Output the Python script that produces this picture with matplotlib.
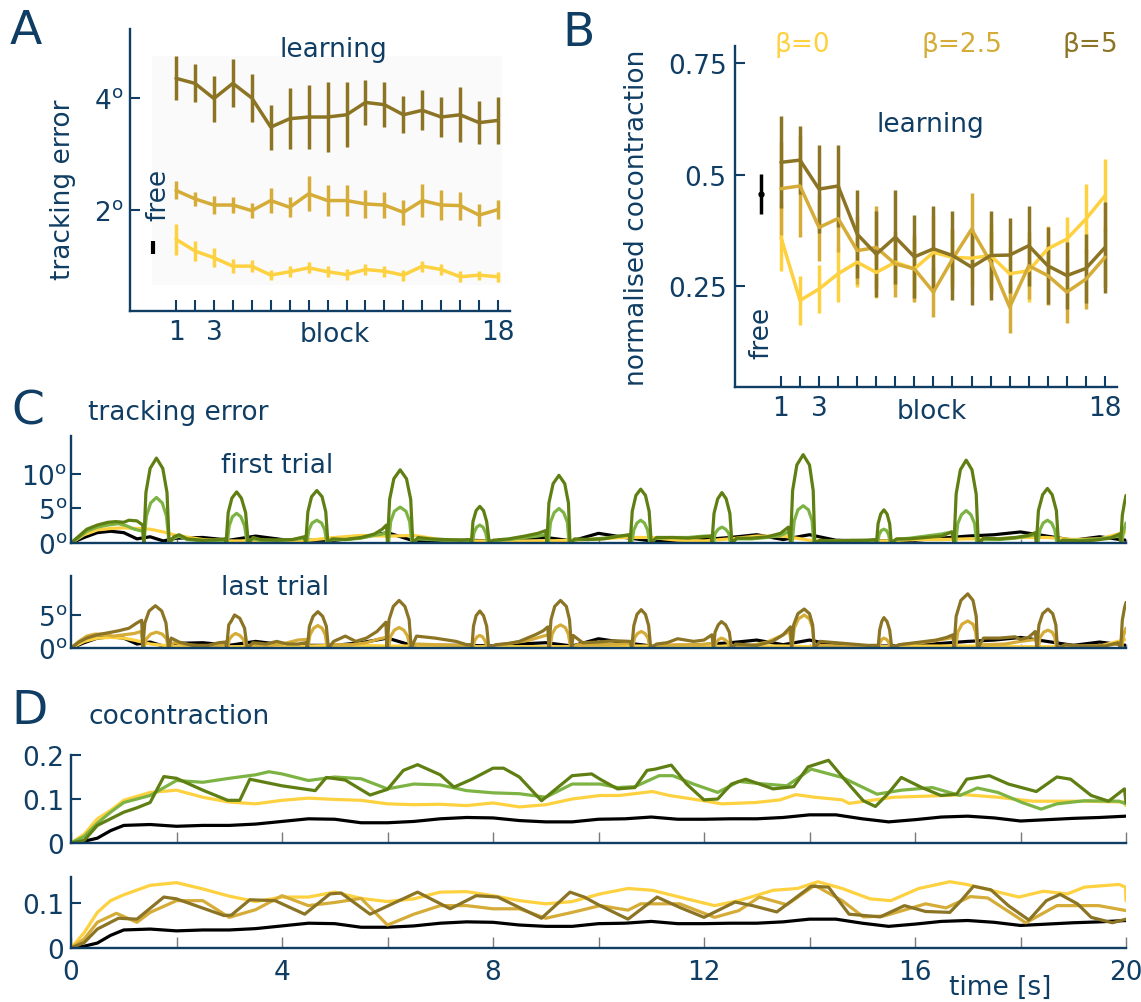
import numpy as np
import matplotlib
matplotlib.use('Agg')
import matplotlib.pyplot as plt
from matplotlib.patches import Rectangle

plt.rcParams['font.family'] = ['DejaVu Sans']
plt.rcParams['mathtext.fontset'] = 'dejavusans'
plt.rcParams['lines.solid_joinstyle'] = 'round'
plt.rcParams['lines.solid_capstyle'] = 'round'

W, H = 1141, 1003
NAVY = '#0f3d63'
C_B0 = '#fdd13f'
C_B25 = '#d4ac37'
C_B5 = '#8c7425'
C_DG = '#5f7f12'
C_LG = '#7db343'
GREY = '#7a7a7a'
FS = 19

# ---------------- panel A : tracking error per block ----------------
blocks = list(range(1, 19))
a_b0 = [1.48, 1.27, 1.15, 1.00, 1.00, 0.84, 0.90, 0.97, 0.90, 0.85, 0.94, 0.91, 0.84, 1.00, 0.94, 0.81, 0.84, 0.81]
a_b0_err = [0.28, 0.17, 0.17, 0.13, 0.11, 0.09, 0.10, 0.10, 0.10, 0.10, 0.10, 0.10, 0.10, 0.10, 0.10, 0.10, 0.08, 0.09]
a_b25 = [2.35, 2.20, 2.09, 2.09, 1.99, 2.17, 2.05, 2.29, 2.17, 2.17, 2.11, 2.09, 1.96, 2.17, 2.09, 2.08, 1.91, 2.01]
a_b25_err = [0.16, 0.13, 0.16, 0.15, 0.13, 0.22, 0.18, 0.31, 0.27, 0.27, 0.25, 0.23, 0.22, 0.30, 0.26, 0.25, 0.20, 0.17]
a_b5 = [4.35, 4.26, 3.99, 4.26, 4.00, 3.48, 3.63, 3.66, 3.66, 3.70, 3.92, 3.88, 3.70, 3.78, 3.66, 3.70, 3.56, 3.60]
a_b5_err = [0.39, 0.34, 0.41, 0.43, 0.43, 0.40, 0.54, 0.57, 0.62, 0.58, 0.40, 0.40, 0.33, 0.36, 0.35, 0.49, 0.39, 0.42]
a_free = [1.33]
a_free_err = [0.12]

# ---------------- panel B : normalised cocontraction per block ----------------
b_b0 = [0.360, 0.218, 0.244, 0.278, 0.304, 0.281, 0.304, 0.289, 0.326, 0.315, 0.313, 0.319, 0.278, 0.285, 0.334, 0.356, 0.401, 0.453]
b_b0_err = [0.075, 0.054, 0.054, 0.063, 0.056, 0.058, 0.060, 0.069, 0.084, 0.063, 0.063, 0.075, 0.061, 0.070, 0.052, 0.049, 0.078, 0.082]
b_b25 = [0.469, 0.475, 0.382, 0.402, 0.330, 0.337, 0.300, 0.289, 0.237, 0.311, 0.378, 0.304, 0.203, 0.296, 0.274, 0.237, 0.266, 0.315]
b_b25_err = [0.104, 0.114, 0.075, 0.075, 0.075, 0.093, 0.075, 0.075, 0.056, 0.067, 0.082, 0.070, 0.058, 0.075, 0.067, 0.069, 0.067, 0.067]
b_b5 = [0.528, 0.533, 0.468, 0.475, 0.367, 0.322, 0.360, 0.316, 0.334, 0.319, 0.293, 0.319, 0.320, 0.341, 0.296, 0.274, 0.290, 0.337]
b_b5_err = [0.103, 0.076, 0.099, 0.093, 0.099, 0.097, 0.106, 0.093, 0.097, 0.100, 0.086, 0.099, 0.084, 0.090, 0.086, 0.076, 0.078, 0.103]
b_free = [0.457]
b_free_err = [0.044]

# ---------------- panel C : tracking error traces (deg) ----------------
c_ts = [0, 0.25, 0.5, 0.75, 1.0, 1.25, 1.5, 1.75] + list(np.arange(2.0, 20.01, 0.5))
c_black = [0, 0.8, 1.5, 1.7, 1.5, 0.6, 0.9, 0.3,
           0.7, 0.8, 0.4, 1.0, 0.5, 0.4, 0.4, 0.8, 1.5, 0.3, 0.4, 0.4, 0.3, 0.6, 0.8, 0.3,
           1.4, 0.8, 0.3, 0.3, 0.5, 0.8, 1.2, 0.5, 1.2, 0.4, 0.3, 0.3, 0.4, 0.7, 1.0, 1.2,
           1.6, 1.0, 0.4, 0.9, 0.4]
c1_yellow = [0, 1.2, 1.9, 2.1, 2.2, 2.1, 2.0, 1.6,
             1.1, 0.5, 0.3, 0.3, 0.3, 0.4, 0.8, 1.1, 1.0, 1.1, 0.5, 0.3, 0.3, 0.3, 0.3, 0.4,
             0.6, 0.8, 0.8, 0.4, 0.3, 0.6, 1.0, 1.0, 0.4, 0.3, 0.3, 0.3, 0.5, 0.5, 0.6, 0.6,
             0.8, 0.8, 0.5, 0.6, 1.6]
c2_yellow = [0, 1.0, 1.5, 1.6, 1.5, 1.1, 0.6, 0.4,
             0.2, 0.2, 0.2, 0.2, 0.3, 0.3, 0.4, 0.4, 0.3, 0.3, 0.2, 0.2, 0.2, 0.2, 0.2, 0.2,
             0.3, 0.3, 0.3, 0.2, 0.2, 0.3, 0.3, 0.3, 0.2, 0.2, 0.2, 0.2, 0.3, 0.3, 0.3, 0.3,
             0.2, 0.2, 0.2, 0.3, 1.3]

# first trial, dark green (t, deg)
c1_dark = [(0, 0), (0.15, 1.0), (0.3, 2.0), (0.5, 2.6), (0.7, 3.0), (0.85, 3.1), (1.0, 3.0), (1.1, 3.3), (1.25, 3.2), (1.36, 2.6),
           (1.38, 0), (1.42, 7.3), (1.5, 10.8), (1.62, 12.3), (1.74, 10.8), (1.82, 7.3), (1.86, 0),
           (1.95, 0.9), (2.05, 1.2), (2.2, 0.6), (2.5, 0.4), (2.8, 0.5), (2.92, 0.6),
           (2.94, 0), (2.98, 4.4), (3.05, 6.5), (3.14, 7.4), (3.23, 6.5), (3.31, 4.4), (3.36, 0),
           (3.45, 0.8), (3.6, 0.5), (3.9, 0.4), (4.2, 0.5), (4.42, 0.9),
           (4.45, 0), (4.49, 4.5), (4.56, 6.7), (4.66, 7.6), (4.76, 6.7), (4.83, 4.5), (4.87, 0),
           (4.95, 0.6), (5.2, 0.5), (5.5, 0.8), (5.75, 1.3), (5.9, 2.0), (5.98, 2.6),
           (6.0, 0), (6.04, 6.3), (6.12, 9.3), (6.24, 10.6), (6.36, 9.3), (6.44, 6.3), (6.48, 0),
           (6.58, 0.8), (6.8, 0.6), (7.1, 0.5), (7.4, 0.4), (7.57, 0.5),
           (7.59, 0), (7.62, 3.1), (7.68, 4.7), (7.75, 5.3), (7.82, 4.7), (7.88, 3.1), (7.93, 0),
           (8.0, 0.4), (8.3, 0.6), (8.6, 1.0), (8.85, 1.4), (9.0, 1.8),
           (9.02, 0), (9.06, 5.8), (9.14, 8.6), (9.25, 9.8), (9.36, 8.6), (9.43, 5.8), (9.46, 0),
           (9.55, 0.6), (9.8, 0.5), (10.1, 0.6), (10.4, 1.0), (10.58, 1.2),
           (10.6, 0), (10.64, 4.6), (10.71, 6.9), (10.8, 7.8), (10.89, 6.9), (10.96, 4.6), (11.0, 0),
           (11.1, 0.8), (11.4, 0.8), (11.7, 0.7), (12.0, 0.9), (12.13, 1.0),
           (12.15, 0), (12.19, 4.3), (12.26, 6.4), (12.34, 7.3), (12.42, 6.4), (12.49, 4.3), (12.53, 0),
           (12.62, 0.7), (12.9, 0.7), (13.2, 0.9), (13.45, 1.4), (13.6, 2.3),
           (13.64, 0), (13.68, 7.6), (13.76, 11.3), (13.88, 12.8), (14.0, 11.3), (14.07, 7.6), (14.1, 0),
           (14.2, 0.4), (14.5, 0.3), (14.8, 0.4), (15.1, 0.4), (15.25, 0.5),
           (15.27, 0), (15.3, 2.8), (15.35, 4.2), (15.41, 4.8), (15.47, 4.2), (15.52, 2.8), (15.55, 0),
           (15.65, 0.6), (15.9, 0.6), (16.2, 0.8), (16.5, 1.0), (16.7, 1.6),
           (16.74, 0), (16.78, 7.1), (16.86, 10.6), (16.97, 12.0), (17.08, 10.6), (17.16, 7.1), (17.2, 0),
           (17.3, 0.7), (17.6, 0.6), (17.9, 0.8), (18.15, 1.1), (18.28, 1.5),
           (18.3, 0), (18.34, 4.7), (18.42, 7.0), (18.51, 7.9), (18.6, 7.0), (18.68, 4.7), (18.72, 0),
           (18.8, 0.4), (19.1, 0.3), (19.4, 0.4), (19.7, 0.7), (19.88, 1.3),
           (19.9, 0), (19.93, 4.0), (19.97, 5.8), (20.0, 6.9)]

# first trial, light green
c1_light = [(0, 0), (0.15, 0.8), (0.3, 1.7), (0.5, 2.3), (0.7, 2.6), (0.9, 2.8), (1.05, 2.5), (1.2, 2.0), (1.36, 1.7),
            (1.38, 0), (1.43, 3.9), (1.51, 5.8), (1.62, 6.6), (1.73, 5.8), (1.81, 3.9), (1.86, 0),
            (1.95, 0.7), (2.05, 1.0), (2.2, 0.5), (2.5, 0.3), (2.8, 0.4), (2.92, 0.4),
            (2.96, 0), (3.0, 2.5), (3.06, 3.8), (3.14, 4.3), (3.22, 3.8), (3.29, 2.5), (3.34, 0),
            (3.45, 0.6), (3.6, 0.4), (3.9, 0.4), (4.2, 0.5), (4.42, 0.7),
            (4.47, 0), (4.51, 1.9), (4.57, 2.9), (4.66, 3.3), (4.75, 2.9), (4.81, 1.9), (4.85, 0),
            (4.95, 0.5), (5.2, 0.5), (5.5, 0.7), (5.75, 1.1), (5.9, 1.3), (5.98, 1.5),
            (6.02, 0), (6.06, 3.1), (6.13, 4.6), (6.24, 5.2), (6.35, 4.6), (6.42, 3.1), (6.46, 0),
            (6.58, 0.6), (6.8, 0.5), (7.1, 0.4), (7.4, 0.4), (7.57, 0.4),
            (7.61, 0), (7.64, 1.5), (7.69, 2.3), (7.75, 2.6), (7.81, 2.3), (7.86, 1.5), (7.9, 0),
            (8.0, 0.3), (8.3, 0.5), (8.6, 0.8), (8.85, 1.0), (9.0, 1.2),
            (9.05, 0), (9.09, 3.0), (9.16, 4.4), (9.25, 5.0), (9.34, 4.4), (9.41, 3.0), (9.44, 0),
            (9.55, 0.5), (9.8, 0.5), (10.1, 0.7), (10.4, 1.0), (10.58, 1.1),
            (10.63, 0), (10.67, 1.9), (10.73, 2.9), (10.8, 3.3), (10.87, 2.9), (10.93, 1.9), (10.97, 0),
            (11.1, 0.7), (11.4, 0.8), (11.7, 0.8), (12.0, 1.0), (12.13, 1.0),
            (12.18, 0), (12.21, 1.4), (12.27, 2.0), (12.34, 2.3), (12.41, 2.0), (12.47, 1.4), (12.5, 0),
            (12.62, 0.6), (12.9, 0.6), (13.2, 0.8), (13.45, 1.1), (13.6, 1.6),
            (13.67, 0), (13.71, 3.2), (13.78, 4.8), (13.88, 5.4), (13.98, 4.8), (14.05, 3.2), (14.08, 0),
            (14.2, 0.3), (14.5, 0.3), (14.8, 0.3), (15.1, 0.4), (15.25, 0.4),
            (15.29, 0), (15.32, 1.2), (15.36, 1.8), (15.41, 2.0), (15.46, 1.8), (15.5, 1.2), (15.53, 0),
            (15.65, 0.5), (15.9, 0.7), (16.2, 1.0), (16.5, 1.3), (16.7, 1.6),
            (16.77, 0), (16.81, 2.8), (16.88, 4.1), (16.97, 4.7), (17.06, 4.1), (17.13, 2.8), (17.17, 0),
            (17.3, 0.5), (17.6, 0.5), (17.9, 0.7), (18.15, 1.0), (18.28, 1.2),
            (18.33, 0), (18.37, 1.9), (18.43, 2.9), (18.51, 3.3), (18.59, 2.9), (18.65, 1.9), (18.69, 0),
            (18.8, 0.4), (19.1, 0.4), (19.4, 0.5), (19.7, 0.8), (19.88, 1.0),
            (19.92, 0), (19.95, 1.6), (19.98, 2.4), (20.0, 2.9)]

# last trial, beta=5
c2_dark = [(0, 0), (0.15, 0.9), (0.3, 1.5), (0.5, 2.0), (0.7, 2.3), (0.9, 2.6), (1.1, 3.0), (1.25, 3.8), (1.34, 4.2),
           (1.36, 0), (1.4, 3.8), (1.48, 5.6), (1.6, 6.4), (1.72, 5.6), (1.8, 3.8), (1.85, 0),
           (1.9, 1.5), (2.05, 0.9), (2.3, 0.4), (2.6, 0.4), (2.8, 0.8), (2.93, 0.9),
           (2.95, 0), (2.99, 3.5), (3.04, 4.1), (3.1, 5.0), (3.2, 4.5), (3.29, 3.0), (3.34, 0),
           (3.45, 0.8), (3.7, 0.6), (3.9, 1.0), (4.1, 0.6), (4.3, 0.6), (4.46, 0.8),
           (4.48, 0), (4.52, 3.3), (4.59, 4.8), (4.68, 5.5), (4.77, 4.8), (4.84, 3.3), (4.88, 0),
           (4.98, 1.0), (5.2, 1.8), (5.4, 1.0), (5.6, 1.5), (5.8, 2.5), (5.97, 3.9),
           (5.99, 0), (6.03, 4.3), (6.11, 6.3), (6.22, 7.2), (6.33, 6.3), (6.41, 4.3), (6.45, 0),
           (6.55, 1.8), (6.9, 1.5), (7.3, 1.0), (7.5, 0.5), (7.58, 0.5),
           (7.6, 0), (7.63, 3.3), (7.68, 4.9), (7.75, 5.6), (7.82, 4.9), (7.88, 3.3), (7.92, 0),
           (8.05, 0.5), (8.3, 0.7), (8.5, 1.0), (8.8, 2.0), (8.95, 2.6), (9.04, 3.2),
           (9.06, 0), (9.1, 4.3), (9.17, 6.3), (9.28, 7.2), (9.39, 6.3), (9.45, 4.3), (9.49, 0),
           (9.52, 1.9), (9.7, 0.8), (10.0, 0.9), (10.3, 1.1), (10.6, 1.0),
           (10.63, 0), (10.67, 3.4), (10.73, 5.1), (10.81, 5.8), (10.89, 5.1), (10.95, 3.4), (10.99, 0),
           (11.1, 0.6), (11.3, 0.8), (11.5, 1.4), (11.8, 1.0), (12.0, 1.2), (12.15, 2.0),
           (12.18, 0), (12.21, 2.4), (12.27, 3.5), (12.33, 4.0), (12.41, 3.5), (12.48, 2.4), (12.52, 0),
           (12.6, 0.6), (12.8, 0.5), (13.0, 0.4), (13.3, 1.0), (13.5, 2.0), (13.64, 3.2),
           (13.66, 0), (13.7, 3.5), (13.78, 5.2), (13.9, 5.9), (14.0, 5.2), (14.06, 3.5), (14.09, 0),
           (14.2, 1.0), (14.5, 0.8), (14.8, 0.6), (15.1, 0.4), (15.28, 0.4),
           (15.3, 0), (15.33, 2.7), (15.37, 4.0), (15.41, 4.6), (15.47, 4.0), (15.52, 2.7), (15.56, 0),
           (15.7, 0.5), (16.0, 0.8), (16.4, 1.2), (16.6, 1.6), (16.72, 2.0),
           (16.74, 0), (16.78, 4.8), (16.87, 7.2), (17.0, 8.2), (17.1, 7.2), (17.16, 4.8), (17.19, 0),
           (17.3, 1.5), (17.6, 1.5), (17.9, 1.7), (18.0, 1.3), (18.15, 1.6), (18.28, 2.5),
           (18.31, 0), (18.35, 3.5), (18.42, 5.2), (18.52, 5.9), (18.61, 5.2), (18.67, 3.5), (18.7, 0),
           (18.85, 0.5), (19.2, 0.3), (19.6, 0.3), (19.85, 0.8),
           (19.9, 0), (19.93, 4.2), (19.97, 6.0), (20.0, 6.9)]

# last trial, beta=2.5
c2_mid = [(0, 0), (0.15, 1.0), (0.3, 1.8), (0.45, 2.1), (0.6, 2.1), (0.8, 1.8), (1.0, 2.0), (1.2, 2.2), (1.33, 2.5),
          (1.38, 0), (1.43, 1.4), (1.51, 2.1), (1.62, 2.4), (1.73, 2.1), (1.81, 1.4), (1.85, 0),
          (1.95, 0.8), (2.2, 0.5), (2.5, 0.3), (2.8, 0.4), (2.93, 0.5),
          (2.97, 0), (3.0, 1.3), (3.06, 1.9), (3.12, 2.2), (3.2, 1.9), (3.27, 1.3), (3.32, 0),
          (3.45, 0.5), (3.7, 0.4), (4.0, 0.6), (4.3, 1.2), (4.46, 1.3),
          (4.49, 0), (4.53, 2.0), (4.6, 3.0), (4.68, 3.4), (4.76, 3.0), (4.82, 2.0), (4.86, 0),
          (4.98, 0.5), (5.3, 0.5), (5.6, 0.8), (5.85, 1.4), (5.98, 1.6),
          (6.02, 0), (6.06, 1.8), (6.13, 2.7), (6.22, 3.1), (6.31, 2.7), (6.38, 1.8), (6.43, 0),
          (6.55, 0.6), (6.9, 0.5), (7.3, 0.4), (7.58, 0.4),
          (7.62, 0), (7.65, 1.1), (7.7, 1.7), (7.75, 1.9), (7.8, 1.7), (7.85, 1.1), (7.89, 0),
          (8.05, 0.4), (8.4, 0.8), (8.7, 1.2), (8.95, 1.8), (9.05, 2.0),
          (9.08, 0), (9.12, 2.1), (9.19, 3.1), (9.28, 3.5), (9.37, 3.1), (9.43, 2.1), (9.47, 0),
          (9.6, 0.5), (10.0, 0.5), (10.4, 0.6), (10.6, 0.7),
          (10.65, 0), (10.68, 1.5), (10.74, 2.2), (10.81, 2.5), (10.88, 2.2), (10.94, 1.5), (10.97, 0),
          (11.1, 0.4), (11.5, 0.5), (11.9, 0.5), (12.15, 0.7),
          (12.2, 0), (12.23, 0.9), (12.28, 1.3), (12.33, 1.5), (12.39, 1.3), (12.45, 0.9), (12.49, 0),
          (12.6, 0.3), (12.9, 0.4), (13.2, 0.9), (13.45, 1.8), (13.62, 2.5),
          (13.67, 0), (13.71, 3.0), (13.79, 4.4), (13.9, 5.0), (14.0, 4.4), (14.06, 3.0), (14.09, 0),
          (14.2, 0.4), (14.6, 0.3), (15.0, 0.3), (15.28, 0.3),
          (15.31, 0), (15.34, 0.9), (15.37, 1.3), (15.41, 1.5), (15.46, 1.3), (15.5, 0.9), (15.53, 0),
          (15.7, 0.5), (16.0, 0.7), (16.3, 1.0), (16.6, 1.4), (16.73, 1.6),
          (16.77, 0), (16.81, 2.4), (16.89, 3.6), (17.0, 4.1), (17.1, 3.6), (17.15, 2.4), (17.18, 0),
          (17.3, 0.5), (17.7, 0.6), (18.0, 1.0), (18.2, 1.2), (18.3, 1.3),
          (18.34, 0), (18.37, 1.6), (18.44, 2.4), (18.52, 2.7), (18.6, 2.4), (18.65, 1.6), (18.68, 0),
          (18.85, 0.3), (19.2, 0.3), (19.6, 0.4), (19.85, 0.6),
          (19.92, 0), (19.95, 1.8), (19.98, 2.6), (20.0, 3.0)]

# ---------------- panel D : cocontraction traces ----------------
d_t = [0, 0.25, 0.5, 0.75] + list(np.arange(1.0, 20.01, 0.5))
d_black = [0, 0.004, 0.011, 0.028,
           0.040, 0.042, 0.038, 0.040, 0.040, 0.043, 0.049, 0.055, 0.054, 0.046, 0.046, 0.049, 0.055,
           0.058, 0.057, 0.051, 0.048, 0.048, 0.054, 0.055, 0.059, 0.054, 0.054, 0.055, 0.055, 0.058,
           0.064, 0.064, 0.055, 0.048, 0.053, 0.059, 0.061, 0.057, 0.050, 0.053, 0.056, 0.058, 0.061]

# first trial (t, value)
d1_yellow = [(0, 0), (0.25, 0.020), (0.5, 0.055), (0.75, 0.074), (1.0, 0.097), (1.5, 0.115), (2.0, 0.120),
             (2.5, 0.104), (3.0, 0.093), (3.5, 0.089), (4.0, 0.097), (4.5, 0.102), (5.0, 0.099), (5.5, 0.097),
             (6.0, 0.089), (6.5, 0.087), (7.0, 0.088), (7.5, 0.085), (8.0, 0.091), (8.5, 0.082), (9.0, 0.087),
             (9.5, 0.100), (10.03, 0.108), (10.4, 0.108), (11.02, 0.117), (11.34, 0.108), (12.0, 0.096),
             (12.33, 0.089), (12.98, 0.092), (13.44, 0.098), (13.74, 0.110), (14.1, 0.104), (14.62, 0.098),
             (14.75, 0.090), (15.6, 0.104), (16.59, 0.108), (16.92, 0.110), (17.57, 0.104), (18.23, 0.095),
             (19.21, 0.095), (19.95, 0.093), (20.0, 0.085)]
d1_light = [(0, 0), (0.25, 0.015), (0.5, 0.045), (0.75, 0.070), (1.0, 0.092), (1.5, 0.108), (2.0, 0.142),
            (2.5, 0.138), (3.0, 0.147), (3.5, 0.155), (3.75, 0.162), (4.0, 0.157), (4.5, 0.142), (5.0, 0.150),
            (5.5, 0.146), (6.0, 0.123), (6.5, 0.134), (7.0, 0.132), (7.5, 0.119), (8.0, 0.114), (8.5, 0.112),
            (9.0, 0.104), (9.5, 0.134), (10.03, 0.134), (10.36, 0.126), (10.69, 0.128), (11.15, 0.153),
            (11.41, 0.153), (11.8, 0.134), (12.26, 0.115), (12.66, 0.140), (13.05, 0.135), (13.57, 0.130),
            (14.03, 0.168), (14.62, 0.149), (15.28, 0.111), (15.74, 0.120), (16.33, 0.126), (16.85, 0.108),
            (17.18, 0.125), (17.57, 0.115), (18.03, 0.092), (18.39, 0.077), (18.69, 0.089), (19.21, 0.096),
            (19.87, 0.095), (20.0, 0.089)]
d1_dark = [(0, 0), (0.25, 0.006), (0.5, 0.040), (1.0, 0.070), (1.25, 0.080), (1.5, 0.092), (1.76, 0.151),
           (2.0, 0.147), (2.5, 0.120), (2.97, 0.097), (3.2, 0.097), (3.39, 0.145), (4.0, 0.130), (4.63, 0.119),
           (4.84, 0.149), (5.2, 0.143), (5.67, 0.109), (6.0, 0.122), (6.3, 0.165), (6.57, 0.178), (7.0, 0.155),
           (7.26, 0.127), (7.6, 0.145), (8.0, 0.170), (8.2, 0.170), (8.5, 0.150), (8.92, 0.096), (9.5, 0.153),
           (9.87, 0.157), (10.03, 0.145), (10.36, 0.123), (10.69, 0.126), (10.92, 0.165), (11.08, 0.168),
           (11.38, 0.177), (11.67, 0.134), (12.0, 0.098), (12.26, 0.100), (12.52, 0.134), (12.79, 0.145),
           (13.31, 0.123), (13.7, 0.128), (13.97, 0.173), (14.36, 0.188), (14.69, 0.141), (15.02, 0.096),
           (15.25, 0.083), (15.48, 0.111), (15.74, 0.149), (16.13, 0.126), (16.49, 0.108), (16.79, 0.111),
           (16.98, 0.145), (17.41, 0.153), (17.77, 0.134), (18.3, 0.117), (18.69, 0.150), (18.95, 0.145),
           (19.34, 0.108), (19.67, 0.095), (19.97, 0.123), (20.0, 0.092)]

# last trial (t, value)
d2_yellow = [(0, 0), (0.25, 0.034), (0.5, 0.079), (0.75, 0.105), (1.0, 0.118), (1.5, 0.139), (2.0, 0.145),
             (2.5, 0.131), (3.0, 0.115), (3.5, 0.103), (4.0, 0.113), (4.5, 0.113), (5.0, 0.124), (5.5, 0.110),
             (6.0, 0.103), (6.5, 0.109), (7.0, 0.124), (7.5, 0.125), (8.0, 0.116), (8.5, 0.105), (9.0, 0.098),
             (9.5, 0.103), (10.03, 0.120), (10.56, 0.132), (11.02, 0.128), (11.67, 0.109), (12.2, 0.094),
             (12.66, 0.105), (13.31, 0.128), (13.77, 0.132), (14.16, 0.147), (14.62, 0.132), (15.15, 0.109),
             (15.54, 0.105), (16.07, 0.132), (16.66, 0.147), (16.98, 0.141), (17.44, 0.128), (17.97, 0.113),
             (18.43, 0.126), (18.89, 0.120), (19.21, 0.135), (19.87, 0.141), (19.99, 0.135), (20.0, 0.105)]
d2_mid = [(0, 0), (0.25, 0.020), (0.5, 0.057), (0.86, 0.077), (1.25, 0.057), (1.5, 0.079), (2.0, 0.105),
          (2.5, 0.105), (3.0, 0.068), (3.5, 0.085), (4.0, 0.116), (4.5, 0.094), (5.0, 0.101), (5.5, 0.110),
          (6.0, 0.051), (6.5, 0.075), (7.0, 0.094), (7.5, 0.094), (8.0, 0.087), (8.5, 0.087), (9.0, 0.066),
          (9.5, 0.079), (10.03, 0.094), (10.56, 0.084), (10.8, 0.098), (11.54, 0.098), (12.2, 0.068),
          (12.66, 0.083), (13.05, 0.113), (13.57, 0.096), (14.1, 0.139), (14.62, 0.105), (15.02, 0.069),
          (15.41, 0.071), (16.2, 0.098), (16.59, 0.089), (17.05, 0.114), (17.38, 0.111), (18.1, 0.056),
          (18.69, 0.094), (19.48, 0.094), (20.0, 0.083)]
d2_dark = [(0, 0), (0.25, 0.012), (0.5, 0.042), (0.9, 0.066), (1.25, 0.064), (1.76, 0.113), (2.0, 0.109),
           (2.9, 0.072), (3.04, 0.073), (3.39, 0.107), (3.87, 0.105), (4.43, 0.075), (4.91, 0.120),
           (5.12, 0.122), (5.67, 0.075), (6.22, 0.105), (6.57, 0.124), (7.19, 0.087), (7.68, 0.116),
           (8.09, 0.113), (8.92, 0.066), (9.46, 0.124), (9.73, 0.113), (10.03, 0.094), (10.56, 0.064),
           (11.11, 0.113), (11.54, 0.090), (12.0, 0.068), (12.59, 0.102), (12.92, 0.094), (13.38, 0.080),
           (14.03, 0.137), (14.36, 0.135), (14.75, 0.075), (15.34, 0.069), (15.8, 0.094), (16.2, 0.081),
           (16.66, 0.079), (16.85, 0.102), (17.11, 0.137), (17.44, 0.129), (17.77, 0.094), (18.16, 0.062),
           (18.49, 0.105), (18.75, 0.119), (19.08, 0.098), (19.34, 0.068), (19.74, 0.056), (20.0, 0.064)]


def box(l, t, r, b):
    # pixel box -> figure fraction
    return [l / W, 1 - b / H, (r - l) / W, (b - t) / H]


def fpos(x, y):
    return x / W, 1 - y / H


def style(ax):
    for s in ['top', 'right']:
        ax.spines[s].set_visible(False)
    for s in ['left', 'bottom']:
        ax.spines[s].set_color(NAVY)
        ax.spines[s].set_linewidth(1.7)
    ax.tick_params(labelsize=FS, labelcolor=NAVY, color=NAVY, direction='in', width=1.5)


def xy(pairs):
    a = np.array(pairs)
    return a[:, 0], a[:, 1]


deg = lambda v: r'$%d^{\mathrm{o}}$' % v

fig = plt.figure(figsize=(W / 100, H / 100), dpi=100)

# ---- A ----
ELW = 2.5
axA = fig.add_axes(box(130, 30, 510, 312))
style(axA)
axA.add_patch(Rectangle((-0.27, 0.67), 18.47, 4.07, facecolor='#fafafa', edgecolor='none', zorder=0))
for m, e, c in [(a_b0, a_b0_err, C_B0), (a_b25, a_b25_err, C_B25), (a_b5, a_b5_err, C_B5)]:
    axA.errorbar(blocks, m, yerr=e, color=c, lw=ELW, elinewidth=ELW, capsize=0)
axA.errorbar([-0.19], a_free, yerr=a_free_err, color='k', lw=3, elinewidth=3, capsize=0)
axA.set_xlim(-1.43, 18.63)
axA.set_ylim(0.2, 5.23)
axA.set_xticks(blocks)
axA.set_xticklabels(['1', '', '3'] + [''] * 14 + ['18'])
axA.set_yticks([2, 4])
axA.set_yticklabels([deg(2), deg(4)])
axA.tick_params(axis='x', length=8, pad=6)
axA.tick_params(axis='y', length=7, pad=5)
axA.text(9.4, -0.08, 'block', transform=axA.get_xaxis_transform(), ha='center', va='center',
         fontsize=FS, color=NAVY)
fig.text(*fpos(333, 50), 'learning', ha='center', va='center', fontsize=FS, color=NAVY)
fig.text(*fpos(158, 195), 'free', rotation=90, ha='center', va='center', fontsize=FS, color=NAVY)
fig.text(*fpos(63, 190), 'tracking error', rotation=90, ha='center', va='center', fontsize=FS, color=NAVY)
fig.text(*fpos(26, 31), 'A', ha='center', va='center', fontsize=34, color=NAVY)

# ---- B ----
axB = fig.add_axes(box(735, 47, 1117, 388))
style(axB)
for m, e, c in [(b_b0, b_b0_err, C_B0), (b_b25, b_b25_err, C_B25), (b_b5, b_b5_err, C_B5)]:
    axB.errorbar(blocks, m, yerr=e, color=c, lw=ELW, elinewidth=ELW, capsize=0)
axB.errorbar([-0.05], b_free, yerr=b_free_err, color='k', lw=2.5, elinewidth=2.5, capsize=0,
             marker='o', ms=3.5)
axB.set_xlim(-1.41, 18.63)
axB.set_ylim(0.024, 0.789)
axB.set_xticks(blocks)
axB.set_xticklabels(['1', '', '3'] + [''] * 14 + ['18'])
axB.set_yticks([0.25, 0.5, 0.75])
axB.set_yticklabels(['0.25', '0.5', '0.75'])
axB.tick_params(axis='x', length=8, pad=6)
axB.tick_params(axis='y', length=7, pad=6)
axB.text(8.9, -0.07, 'block', transform=axB.get_xaxis_transform(), ha='center', va='center',
         fontsize=FS, color=NAVY)
fig.text(*fpos(930, 125), 'learning', ha='center', va='center', fontsize=FS, color=NAVY)
fig.text(*fpos(761, 333), 'free', rotation=90, ha='center', va='center', fontsize=FS, color=NAVY)
fig.text(*fpos(637, 218), 'normalised cocontraction', rotation=90, ha='center', va='center',
         fontsize=FS, color=NAVY)
fig.text(*fpos(802, 45), 'β=0', ha='center', va='center', fontsize=FS, color=C_B0)
fig.text(*fpos(962, 45), 'β=2.5', ha='center', va='center', fontsize=FS, color=C_B25)
fig.text(*fpos(1090, 45), 'β=5', ha='center', va='center', fontsize=FS, color=C_B5)
fig.text(*fpos(579, 34), 'B', ha='center', va='center', fontsize=34, color=NAVY)

# ---- C ----
LW = 2.3
axC1 = fig.add_axes(box(71, 437, 1126, 544))
axC2 = fig.add_axes(box(71, 577, 1126, 649))
traces_c = [
    (axC1, c1_yellow, c1_light, C_LG, c1_dark, C_DG),
    (axC2, c2_yellow, c2_mid, C_B25, c2_dark, C_B5),
]
for ax, yel, lo, lo_c, hi, hi_c in traces_c:
    style(ax)
    ax.plot(c_ts, c_black, color='k', lw=LW)
    ax.plot(c_ts, yel, color=C_B0, lw=LW)
    ax.plot(*xy(lo), color=lo_c, lw=LW)
    ax.plot(*xy(hi), color=hi_c, lw=LW)
    ax.set_xlim(0, 20)
    ax.set_xticks(np.arange(2, 21, 2))
    ax.set_xticklabels([])
    ax.tick_params(axis='x', color=GREY, length=3, width=1)
    ax.tick_params(axis='y', length=7, pad=3)
axC1.set_ylim(0, 15.5)
axC1.set_yticks([0, 5, 10])
axC1.set_yticklabels([deg(0), deg(5), deg(10)])
axC2.set_ylim(0, 10.9)
axC2.set_yticks([0, 5])
axC2.set_yticklabels([deg(0), deg(5)])
fig.text(*fpos(277, 466), 'first trial', ha='center', va='center', fontsize=FS, color=NAVY)
fig.text(*fpos(275, 588), 'last trial', ha='center', va='center', fontsize=FS, color=NAVY)
fig.text(*fpos(88, 413), 'tracking error', ha='left', va='center', fontsize=FS, color=NAVY)
fig.text(*fpos(28, 412), 'C', ha='center', va='center', fontsize=34, color=NAVY)

# ---- D ----
axD1 = fig.add_axes(box(71, 756, 1126, 844))
axD2 = fig.add_axes(box(71, 878, 1126, 949))
traces_d = [
    (axD1, d1_yellow, d1_light, C_LG, d1_dark, C_DG),
    (axD2, d2_yellow, d2_mid, C_B25, d2_dark, C_B5),
]
for ax, yel, lo, lo_c, hi, hi_c in traces_d:
    style(ax)
    ax.plot(d_t, d_black, color='k', lw=LW)
    ax.plot(*xy(yel), color=C_B0, lw=LW)
    ax.plot(*xy(lo), color=lo_c, lw=LW)
    ax.plot(*xy(hi), color=hi_c, lw=LW)
    ax.set_xlim(0, 20)
    ax.set_xticks(np.arange(0, 21, 2))
    ax.tick_params(axis='x', color=GREY, length=8, width=1, pad=8)
    ax.tick_params(axis='y', length=7, pad=5)
axD1.set_xticklabels([])
axD2.set_xticklabels(['0', '', '4', '', '8', '', '12', '', '16', '', '20'])
axD1.set_ylim(0, 0.2)
axD1.set_yticks([0, 0.1, 0.2])
axD1.set_yticklabels(['0', '0.1', '0.2'])
axD2.set_ylim(0, 0.1575)
axD2.set_yticks([0, 0.1])
axD2.set_yticklabels(['0', '0.1'])
fig.text(*fpos(1000, 988), 'time [s]', ha='center', va='center', fontsize=FS, color=NAVY)
fig.text(*fpos(88, 717), 'cocontraction', ha='left', va='center', fontsize=FS, color=NAVY)
fig.text(*fpos(29, 711), 'D', ha='center', va='center', fontsize=34, color=NAVY)

fig.savefig('out.png', dpi=100)
